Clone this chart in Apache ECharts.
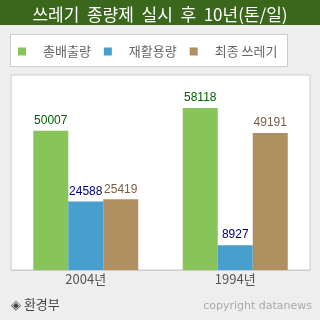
<!DOCTYPE html>
<html><head><meta charset="utf-8">
<script src="https://cdn.jsdelivr.net/npm/echarts@6/dist/echarts.min.js"></script>
<style>html,body{margin:0;padding:0;background:#eeeeee;}#c{width:320px;height:320px;}</style>
</head><body><div id="c"></div>
<script>
var categories = ['2004년', '1994년'];
var seriesNames = ['총배출량', '재활용량', '최종 쓰레기'];
var totalEmission = [50007, 58118];
var recycled = [24588, 8927];
var finalWaste = [25419, 49191];
var titleText = '쓰레기  종량제  실시  후  10년(톤/일)';

var FONT = '"Noto Sans CJK KR", "DejaVu Sans", sans-serif';
var chart = echarts.init(document.getElementById('c'));
function mk(name, data, color, labelColor) {
  return {
    name: name, type: 'bar', data: data, barWidth: 35, barGap: '0%',
    itemStyle: { color: color },
    label: { show: true, position: 'top', distance: 4, color: labelColor, fontSize: 12, fontFamily: '"Liberation Sans", Arial, sans-serif' }
  };
}
chart.setOption({
  backgroundColor: '#eeeeee',
  animation: false,
  graphic: [
    { type: 'rect', shape: { x: 0, y: 0, width: 320, height: 25 }, style: { fill: '#3b671d' }, z: 0 },
    { type: 'rect', shape: { x: 10.5, y: 34.5, width: 277, height: 32 }, style: { fill: '#ffffff', stroke: '#cccccc', lineWidth: 1 }, z: 0 },
    { type: 'text', left: 11, top: 298, style: { text: '◈ 환경부', fill: '#444444', font: '13px ' + FONT } },
    { type: 'text', right: 8, top: 301, style: { text: 'copyright datanews', fill: '#aaaaaa', font: '11px "DejaVu Sans", sans-serif' } }
  ],
  title: {
    text: titleText, left: 'center', top: 1,
    textStyle: { color: '#ffffff', fontSize: 17, fontWeight: 'normal', fontFamily: FONT }
  },
  legend: {
    data: seriesNames, left: 13, top: 40, icon: 'rect', itemWidth: 8, itemHeight: 8, itemGap: 13,
    textStyle: { color: '#666666', fontSize: 13, fontFamily: FONT, padding: [0, 0, 0, 12] }
  },
  grid: { left: 11, right: 10, top: 75, bottom: 50, show: true, backgroundColor: '#ffffff', borderColor: '#cccccc', borderWidth: 1 },
  xAxis: {
    type: 'category', data: categories,
    axisLine: { lineStyle: { color: '#cccccc' } },
    axisTick: { inside: true, length: 5, lineStyle: { color: '#999999' } },
    axisLabel: { color: '#555555', fontSize: 13, fontFamily: FONT, margin: 3 }
  },
  yAxis: { type: 'value', min: 0, max: 70000, show: false, splitLine: { show: false } },
  series: [
    mk(seriesNames[0], totalEmission, '#88c45a', '#006400'),
    mk(seriesNames[1], recycled, '#479fce', '#000080'),
    mk(seriesNames[2], finalWaste, '#b08f60', '#7a6040')
  ]
});
</script></body></html>
